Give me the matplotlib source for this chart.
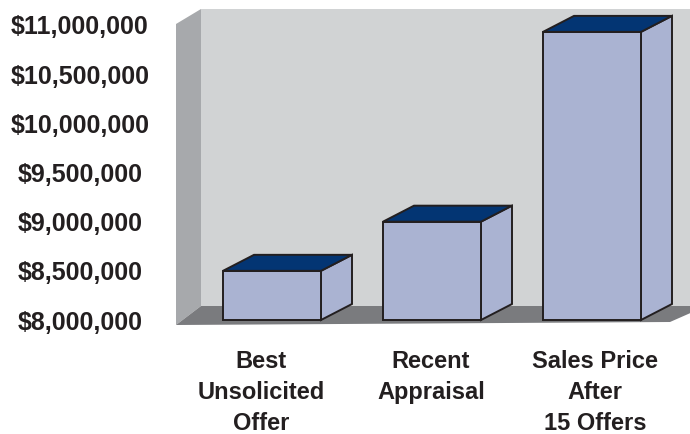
import matplotlib
matplotlib.use("Agg")
import matplotlib.pyplot as plt
from matplotlib.patches import Polygon
from matplotlib.transforms import ScaledTranslation

# ---- data ----
categories = ["Best\nUnsolicited\nOffer", "Recent\nAppraisal", "Sales Price\nAfter\n15 Offers"]
values = [8_500_000, 9_000_000, 10_930_000]
yticks = [8_000_000, 8_500_000, 9_000_000, 9_500_000, 10_000_000, 10_500_000, 11_000_000]
ytick_labels = ["$8,000,000", "$8,500,000", "$9,000,000", "$9,500,000",
                "$10,000,000", "$10,500,000", "$11,000,000"]

# ---- style ----
BACK_WALL = "#d1d3d4"
SIDE_WALL = "#a7a9ac"
FLOOR = "#7a7b7e"
BAR_FACE = "#aab3d2"
BAR_TOP = "#033573"
EDGE = "#231f20"
TEXT = "#231f20"
FONT = "Liberation Sans"

W, H = 690, 434
fig = plt.figure(figsize=(W / 100, H / 100), dpi=100)
ax_left, ax_right = 176, 672
ax_bottom_px, ax_top_px = 320, 25
ax = fig.add_axes([ax_left / W, (H - ax_bottom_px) / H,
                   (ax_right - ax_left) / W, (ax_bottom_px - ax_top_px) / H])
ymin, ymax = 8_000_000, 11_000_000
xmin, xmax = -0.6, 2.5
ax.set_xlim(xmin, xmax)
ax.set_ylim(ymin, ymax)

# pixel -> data scale
sx = (xmax - xmin) / (ax_right - ax_left)
sy = (ymax - ymin) / (ax_bottom_px - ax_top_px)

def px2x(px):
    return xmin + (px - ax_left) * sx

def py2y(py):
    return ymin + (ax_bottom_px - py) * sy

# ---- walls and floor ----
wall_dx = 25 * sx
x_front = xmin
x_back = xmin + wall_dx
x_far = px2x(W + 5)
top_front = py2y(24)
top_back = py2y(9)
floor_back = py2y(306)
floor_front = py2y(325)
floor_front_r = py2y(322)

ax.add_patch(Polygon([(x_back, floor_back), (x_far, floor_back), (x_far, top_back), (x_back, top_back)],
                     closed=True, facecolor=BACK_WALL, edgecolor="none", zorder=0, clip_on=False))
ax.add_patch(Polygon([(x_front, floor_front), (x_back, floor_back), (x_back, top_back), (x_front, top_front)],
                     closed=True, facecolor=SIDE_WALL, edgecolor="none", zorder=0, clip_on=False))
ax.add_patch(Polygon([(x_front, floor_front), (x_back, floor_back), (x_far, floor_back),
                      (x_far, py2y(311)), (px2x(670), floor_front_r)],
                     closed=True, facecolor=FLOOR, edgecolor="none", zorder=0, clip_on=False))

# ---- bars ----
xpos = list(range(len(categories)))
bw = 98 * sx
bdx = 31 * sx
bdy = 16 * sy
heights = [v - ymin for v in values]
ax.bar(xpos, heights, bottom=ymin, width=bw, color=BAR_FACE, edgecolor=EDGE,
       linewidth=1.4, zorder=3, clip_on=False)
for x, v in zip(xpos, values):
    l, r = x - bw / 2, x + bw / 2
    ax.add_patch(Polygon([(r, ymin), (r + bdx, ymin + bdy), (r + bdx, v + bdy), (r, v)],
                         closed=True, facecolor=BAR_FACE, edgecolor=EDGE, linewidth=1.4,
                         joinstyle="miter", zorder=2, clip_on=False))
    ax.add_patch(Polygon([(l, v), (r, v), (r + bdx, v + bdy), (l + bdx, v + bdy)],
                         closed=True, facecolor=BAR_TOP, edgecolor=EDGE, linewidth=1.4,
                         joinstyle="miter", zorder=4, clip_on=False))

# ---- axes / ticks ----
for s in ax.spines.values():
    s.set_visible(False)
ax.set_facecolor("none")
ax.set_yticks(yticks)
ax.set_yticklabels(ytick_labels, fontfamily=FONT, fontweight="bold", fontsize=18, color=TEXT)
for t in ax.get_yticklabels():
    t.set_horizontalalignment("center")
ax.tick_params(axis="y", length=0, pad=96 * 0.72)
ax.set_xticks(xpos)
ax.set_xticklabels(categories, fontfamily=FONT, fontweight="bold", fontsize=17, color=TEXT,
                   linespacing=1.45)
ax.tick_params(axis="x", length=0, pad=30 * 0.72)
label_shift_px = [-11, -1, 3]
for t, dxp in zip(ax.get_xticklabels(), label_shift_px):
    t.set_transform(t.get_transform() + ScaledTranslation(dxp / 100, 0, fig.dpi_scale_trans))

fig.savefig("out.png", dpi=100, facecolor="white")
